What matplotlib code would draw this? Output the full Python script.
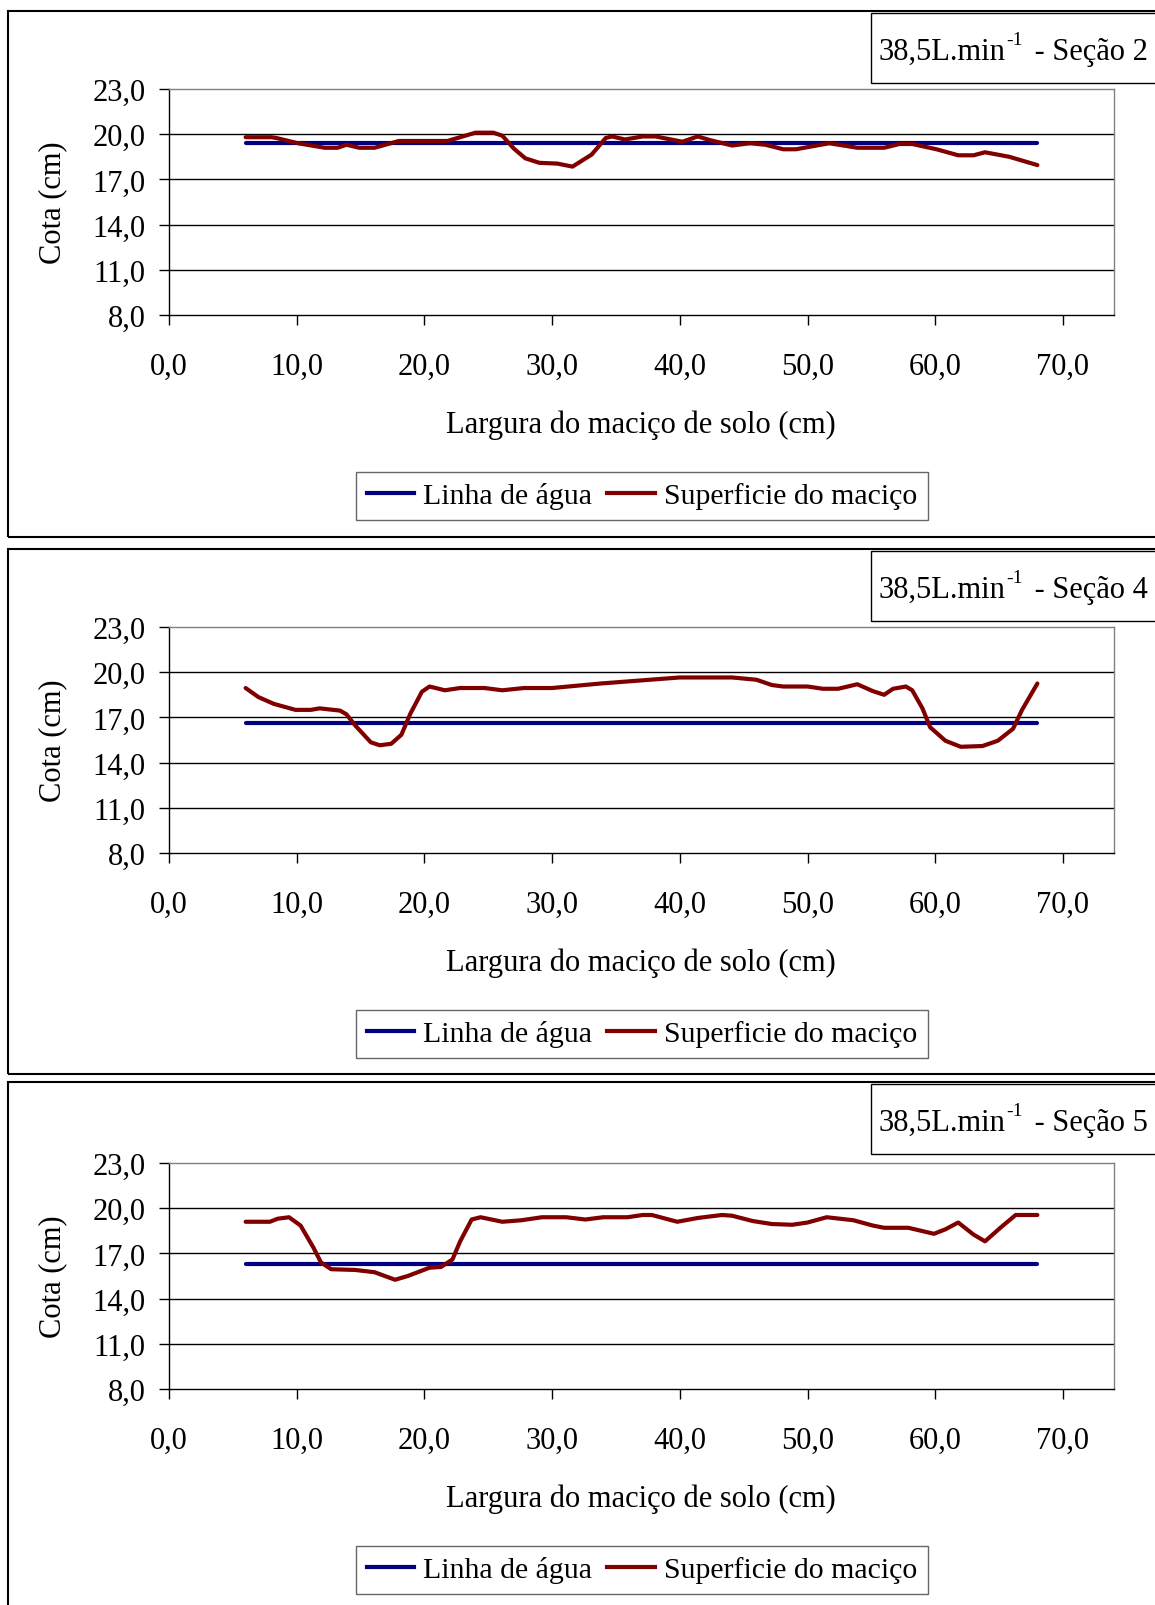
import matplotlib
matplotlib.use("Agg")
import matplotlib.pyplot as plt
from matplotlib.patches import Rectangle
from matplotlib.lines import Line2D
from matplotlib.text import Annotation

plt.rcParams["font.family"] = ["Liberation Serif", "DejaVu Serif"]

# ---- data -------------------------------------------------------------
titles = ["Seção 2", "Seção 4", "Seção 5"]
flow_label = "38,5L.min"
flow_exponent = "-1"

x_ticks = [0, 10, 20, 30, 40, 50, 60, 70]
y_ticks = [8, 11, 14, 17, 20, 23]

water_x = [6, 68]
water_s2 = 19.4
water_s4 = 16.6
water_s5 = 16.3

surf_s2_x = [6, 8, 8.4, 10.1, 12.2, 13.2, 13.9, 14.9, 16.1, 18.0,
             21.8, 24.0, 25.4, 26.1, 27.0, 27.9, 29.0, 30.4, 31.6, 33.1,
             34.2, 34.7, 35.7, 37.1, 38.1, 40.2, 41.4, 42.4, 44.1, 45.5,
             46.7, 48.1, 49.1, 51.7, 53.9, 56.0, 57.2, 58.2, 60.1, 61.8,
             63.0, 63.9, 65.8, 68.0]
surf_s2_y = [19.8, 19.8, 19.75, 19.4, 19.1, 19.1, 19.3, 19.1, 19.1, 19.55,
             19.55, 20.1, 20.1, 19.9, 19.05, 18.4, 18.1, 18.05, 17.85, 18.65,
             19.75, 19.85, 19.65, 19.85, 19.85, 19.5, 19.85, 19.6, 19.25, 19.4,
             19.3, 19.0, 19.0, 19.4, 19.1, 19.1, 19.35, 19.35, 19.0, 18.6,
             18.6, 18.8, 18.5, 17.95]

surf_s4_x = [6, 7, 8.2, 9.9, 11.1, 11.8, 13.4, 13.9, 14.6, 15.8,
             16.5, 17.4, 18.2, 18.9, 19.4, 19.8, 20.4, 21.6, 22.8, 24.7,
             26.1, 27.8, 30.0, 33.8, 40.0, 44.1, 46.0, 47.2, 48.1, 50.0,
             51.2, 52.4, 53.9, 55.1, 56.0, 56.7, 57.7, 58.2, 59.0, 59.6,
             60.8, 62.0, 63.7, 64.9, 66.1, 66.8, 68.0]
surf_s4_y = [18.95, 18.35, 17.9, 17.5, 17.5, 17.6, 17.45, 17.2, 16.45, 15.35,
             15.15, 15.25, 15.85, 17.25, 18.05, 18.7, 19.05, 18.8, 18.95, 18.95,
             18.8, 18.95, 18.95, 19.25, 19.65, 19.65, 19.5, 19.15, 19.05, 19.05,
             18.9, 18.9, 19.2, 18.75, 18.5, 18.9, 19.05, 18.8, 17.6, 16.35,
             15.45, 15.05, 15.1, 15.45, 16.25, 17.5, 19.25]

surf_s5_x = [6, 7.9, 8.5, 9.4, 10.3, 11.3, 11.9, 12.7, 14.6, 16.1,
             17.7, 18.7, 20.4, 21.3, 22.2, 22.8, 23.7, 24.4, 26.1, 27.6,
             29.2, 31.1, 32.6, 34.0, 35.9, 37.1, 37.8, 39.8, 41.4, 43.3,
             44.1, 45.7, 47.2, 48.8, 50.0, 51.5, 53.6, 55.1, 56.0, 57.9,
             59.9, 60.8, 61.8, 63.0, 63.9, 65.1, 66.3, 68.0]
surf_s5_y = [19.1, 19.1, 19.3, 19.4, 18.85, 17.4, 16.4, 15.95, 15.9, 15.75,
             15.25, 15.5, 16.05, 16.1, 16.6, 17.8, 19.25, 19.4, 19.1, 19.2,
             19.4, 19.4, 19.25, 19.4, 19.4, 19.55, 19.55, 19.1, 19.35, 19.55,
             19.5, 19.15, 18.95, 18.9, 19.05, 19.4, 19.2, 18.85, 18.7, 18.7,
             18.3, 18.6, 19.05, 18.25, 17.8, 18.7, 19.55, 19.55]

water_levels = [water_s2, water_s4, water_s5]
surfaces = [(surf_s2_x, surf_s2_y), (surf_s4_x, surf_s4_y), (surf_s5_x, surf_s5_y)]

# ---- layout (pixels) --------------------------------------------------
W, H = 1155, 1606
fig = plt.figure(figsize=(W / 100, H / 100), dpi=100)

BLUE = "#000080"
RED = "#800000"
FS = 22
LEG_FS = 21.5

panel_top = [12, 550, 1083]
panel_bot = [538, 1075, 1620]
plot_top = [90, 628, 1164]
plot_h = 226
plot_left, plot_right = 169, 1114


def fx(px):
    return px / W


def fy(py):
    return 1 - py / H


for i in range(3):
    # outer chart frame
    fig.patches.append(Rectangle((fx(8), fy(panel_bot[i])), fx(1200 - 8),
                                 (panel_bot[i] - panel_top[i]) / H,
                                 transform=fig.transFigure, fill=False,
                                 edgecolor="black", linewidth=1.5, zorder=0))
    # title box with superscripted unit
    tb_top = panel_top[i] + 2
    tb_bot = panel_top[i] + 72
    fig.patches.append(Rectangle((fx(871), fy(tb_bot)), fx(400),
                                 (tb_bot - tb_top) / H,
                                 transform=fig.transFigure, fill=False,
                                 edgecolor="black", linewidth=1.0, zorder=1))
    base_y = fy((tb_top + tb_bot) / 2 + 11)
    t1 = fig.text(fx(879), base_y, flow_label, ha="left", va="baseline",
                  fontsize=FS)
    t2 = Annotation(flow_exponent, xy=(1.0, 0.0), xycoords=t1,
                    xytext=(0, 13), textcoords="offset points",
                    ha="left", va="bottom", fontsize=14,
                    annotation_clip=False)
    fig.add_artist(t2)
    t3 = Annotation(" - " + titles[i], xy=(1.0, 0.0), xycoords=(t2, t1),
                    xytext=(3, 0), textcoords="offset points",
                    ha="left", va="bottom", fontsize=FS,
                    annotation_clip=False)
    fig.add_artist(t3)

    ax = fig.add_axes([fx(plot_left), fy(plot_top[i] + plot_h),
                       fx(plot_right - plot_left), plot_h / H])
    ax.set_xlim(0, 74)
    ax.set_ylim(8, 23)
    ax.set_xticks(x_ticks)
    ax.set_yticks(y_ticks)
    ax.set_xticklabels([f"{v:.1f}".replace(".", ",") for v in x_ticks])
    ax.set_yticklabels([f"{v:.1f}".replace(".", ",") for v in y_ticks])
    ax.tick_params(axis="both", direction="out", length=7, width=1,
                   labelsize=FS, color="black")
    ax.tick_params(axis="x", pad=19.5)
    ax.tick_params(axis="y", pad=10)
    for y in y_ticks[1:-1]:
        ax.axhline(y, color="black", linewidth=1.0, zorder=1)
    ax.spines["top"].set_color("#808080")
    ax.spines["right"].set_color("#808080")
    ax.spines["left"].set_color("black")
    ax.spines["bottom"].set_color("black")
    for s in ax.spines.values():
        s.set_linewidth(1.0)

    ax.plot(water_x, [water_levels[i]] * len(water_x), color=BLUE,
            linewidth=3.0, solid_capstyle="round", zorder=3)
    sx, sy = surfaces[i]
    ax.plot(sx, sy, color=RED, linewidth=3.0, solid_capstyle="round",
            solid_joinstyle="round", zorder=4)

    # axis titles
    fig.text(fx(641), fy(plot_top[i] + 335), "Largura do maciço de solo (cm)",
             ha="center", va="center", fontsize=FS)
    fig.text(fx(53), fy(plot_top[i] + plot_h / 2), "Cota (cm)",
             ha="center", va="center", rotation=90, fontsize=FS)

    handles = [Line2D([], [], color=BLUE, linewidth=3.0),
               Line2D([], [], color=RED, linewidth=3.0)]
    leg = fig.legend(handles, ["Linha de água", "Superficie do maciço"],
                     loc="center", bbox_to_anchor=(fx(642), fy(plot_top[i] + 407)),
                     bbox_transform=fig.transFigure, ncol=2, fontsize=LEG_FS,
                     frameon=True, fancybox=False, handlelength=1.6,
                     handletextpad=0.3, columnspacing=0.5, borderpad=0.35,
                     borderaxespad=0)
    fr = leg.get_frame()
    fr.set_edgecolor("#404040")
    fr.set_linewidth(1.0)

fig.savefig("out.png", dpi=100)
